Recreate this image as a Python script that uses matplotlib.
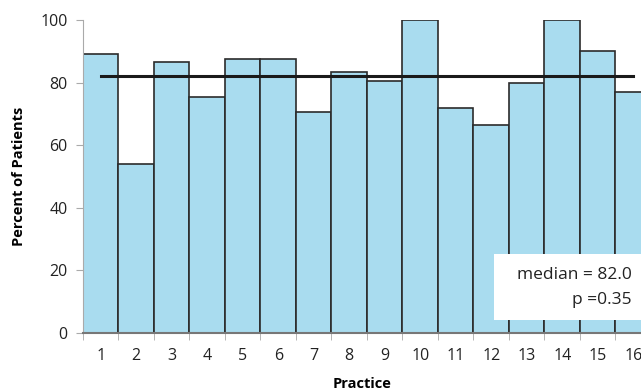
import numpy as np
import matplotlib.pyplot as plt
from matplotlib.ticker import FixedLocator
from matplotlib.patches import Rectangle

plt.rcParams['font.family'] = ['Open Sans', 'DejaVu Sans']

practices = list(range(1, 17))
percent = [89, 54, 86.5, 75.5, 87.5, 87.5, 70.5, 83.5, 80.5, 100, 72, 66.5, 80, 100, 90, 77]
median = 82.0
p_value = 0.35

fig = plt.figure(figsize=(6.41, 3.92), dpi=100)
ax = fig.add_axes([83/641, 59/392, 558/641, 313/392])

ax.bar(practices, percent, width=1.0, color='#a9dcef', edgecolor='#2b2b2b', linewidth=1.2, zorder=2)
ax.plot([practices[0], practices[-1]], [median, median], color='#1a1a1a', lw=2.2, zorder=3)

ax.set_xlim(0.5, 16.22)
ax.set_ylim(0, 100)
ax.set_yticks([0, 20, 40, 60, 80, 100])
ax.set_xticks(practices)
ax.xaxis.set_minor_locator(FixedLocator(np.arange(0.5, 17, 1)))
ax.tick_params(axis='x', which='major', length=0, pad=11, labelsize=11.5, colors='#222222')
ax.tick_params(axis='x', which='minor', length=5, color='#aaaaaa', direction='out')
ax.tick_params(axis='y', length=5, labelsize=11.5, labelcolor='#222222', color='#aaaaaa', pad=6)

for s in ['top', 'right']:
    ax.spines[s].set_visible(False)
ax.spines['left'].set_color('#aaaaaa')
ax.spines['bottom'].set_color('#777777')
ax.spines['bottom'].set_linewidth(1.5)

ax.set_xlabel('Practice', fontsize=10.5, fontweight='bold', labelpad=9)
ax.set_ylabel('Percent of Patients', fontsize=10.5, fontweight='bold', labelpad=10)

# white box with the stats
ax.add_patch(Rectangle((0.737, 0.042), 0.3, 0.21, transform=ax.transAxes,
                       fc='white', ec='none', zorder=5, clip_on=False))
ax.text(0.984, 0.185, f'median = {median:.1f}', transform=ax.transAxes,
        ha='right', va='center', fontsize=12.5, color='#222222', zorder=6)
ax.text(0.984, 0.105, f'p ={p_value:.2f}', transform=ax.transAxes,
        ha='right', va='center', fontsize=12.5, color='#222222', zorder=6)

fig.savefig('out.png', dpi=100)
